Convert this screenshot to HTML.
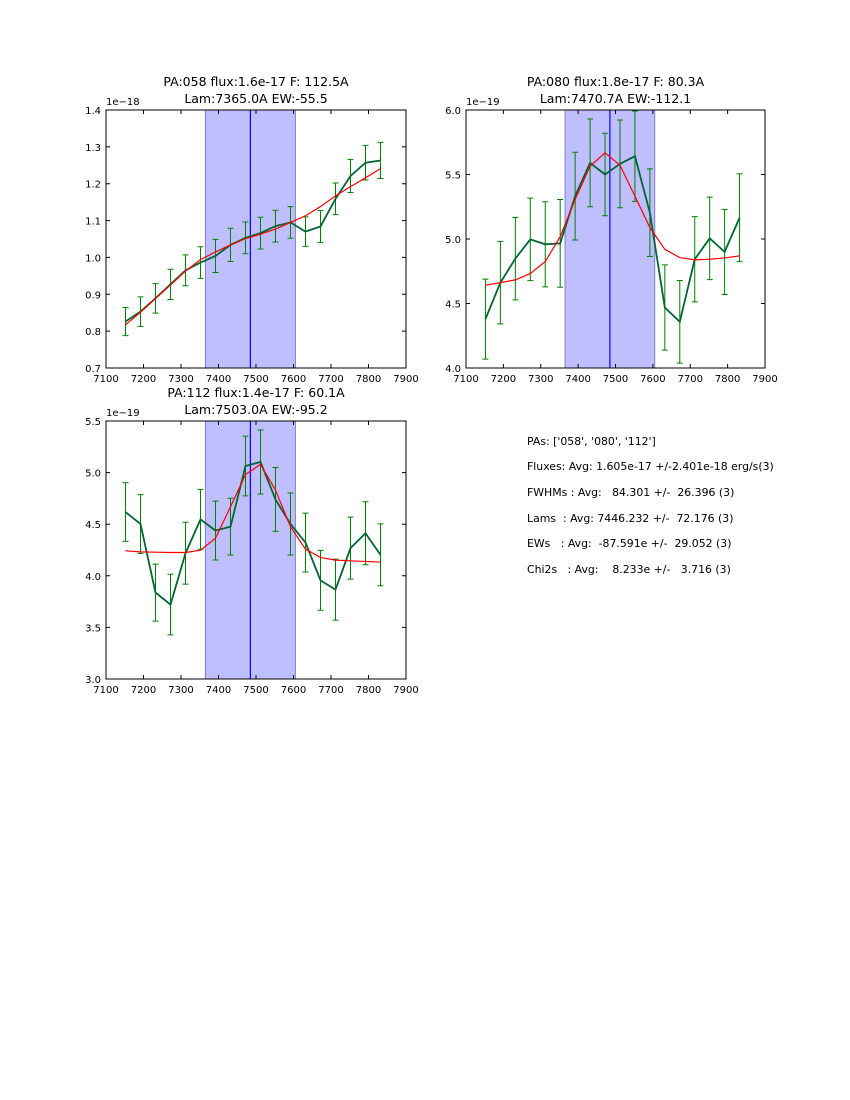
<!DOCTYPE html>
<html><head><meta charset="utf-8"><style>
body{margin:0;background:#fff;}
svg{display:block;font-family:"DejaVu Sans","Liberation Sans",sans-serif;}
#stats text{white-space:pre;}
</style></head><body>
<svg id="fig" width="850" height="1100" xmlns="http://www.w3.org/2000/svg">
<rect width="850" height="1100" fill="#fff"/>
<g id="stats" font-size="10.9" fill="#000">
<text x="527" y="445">PAs: ['058', '080', '112']</text>
<text x="527" y="470">Fluxes: Avg: 1.605e-17 +/-2.401e-18 erg/s(3)</text>
<text x="527" y="496">FWHMs : Avg:   84.301 +/-  26.396 (3)</text>
<text x="527" y="522">Lams  : Avg: 7446.232 +/-  72.176 (3)</text>
<text x="527" y="547">EWs   : Avg:  -87.591e +/-  29.052 (3)</text>
<text x="527" y="573">Chi2s   : Avg:    8.233e +/-   3.716 (3)</text>
</g>
</svg>
<script>
const lam = [7152,7192,7232,7272,7312,7352,7392,7432,7472,7512,7552,7592,7632,7672,7712,7752,7792,7832];
const p1Obs = [0.826,0.853,0.889,0.927,0.965,0.986,1.004,1.034,1.053,1.066,1.085,1.095,1.070,1.084,1.159,1.221,1.257,1.263];
const p1Err = [0.038,0.040,0.040,0.041,0.042,0.043,0.045,0.045,0.043,0.043,0.043,0.043,0.040,0.043,0.043,0.045,0.047,0.049];
const p1Fit = [0.817,0.851,0.889,0.925,0.963,0.994,1.015,1.034,1.051,1.063,1.077,1.095,1.113,1.138,1.167,1.192,1.216,1.241];
const p2Obs = [4.379,4.662,4.848,4.997,4.959,4.966,5.332,5.590,5.500,5.582,5.642,5.204,4.469,4.358,4.843,5.005,4.900,5.165];
const p2Err = [0.31,0.32,0.32,0.32,0.33,0.34,0.34,0.34,0.32,0.34,0.35,0.34,0.33,0.32,0.33,0.32,0.33,0.34];
const p2Fit = [4.642,4.662,4.683,4.732,4.825,5.018,5.307,5.564,5.668,5.572,5.332,5.088,4.920,4.856,4.838,4.843,4.853,4.869];
const p3Obs = [4.618,4.502,3.837,3.721,4.219,4.547,4.438,4.476,5.064,5.103,4.740,4.502,4.322,3.956,3.866,4.268,4.412,4.203];
const p3Err = [0.285,0.285,0.276,0.294,0.30,0.29,0.285,0.275,0.29,0.31,0.31,0.30,0.285,0.29,0.295,0.30,0.305,0.30];
const p3Fit = [4.242,4.232,4.229,4.226,4.226,4.248,4.364,4.669,4.981,5.080,4.830,4.476,4.258,4.178,4.152,4.145,4.139,4.133];
const xTicks = [7100,7200,7300,7400,7500,7600,7700,7800,7900];
const p1YTicks = [0.7,0.8,0.9,1.0,1.1,1.2,1.3,1.4];
const p2YTicks = [4.0,4.5,5.0,5.5,6.0];
const p3YTicks = [3.0,3.5,4.0,4.5,5.0,5.5];
const bandLo = 7365, bandHi = 7605, lineLam = 7485;

const NS = "http://www.w3.org/2000/svg";
const svg = document.getElementById('fig');
function mk(tag, attrs, parent){const e=document.createElementNS(NS,tag);for(const k in attrs)e.setAttribute(k,attrs[k]);(parent||svg).appendChild(e);return e;}

const panels = [
 {name:'panel-pa058', x0:106,x1:406,y0:110,y1:368, ymin:0.7,ymax:1.4, yt:p1YTicks, dec:1, obs:p1Obs, err:p1Err, fit:p1Fit, exp:'1e\u221218', t1:'PA:058 flux:1.6e-17 F: 112.5A', t2:'Lam:7365.0A EW:-55.5'},
 {name:'panel-pa080', x0:466,x1:765,y0:110,y1:368, ymin:4.0,ymax:6.0, yt:p2YTicks, dec:1, obs:p2Obs, err:p2Err, fit:p2Fit, exp:'1e\u221219', t1:'PA:080 flux:1.8e-17 F: 80.3A', t2:'Lam:7470.7A EW:-112.1'},
 {name:'panel-pa112', x0:106,x1:406,y0:421,y1:679, ymin:3.0,ymax:5.5, yt:p3YTicks, dec:1, obs:p3Obs, err:p3Err, fit:p3Fit, exp:'1e\u221219', t1:'PA:112 flux:1.4e-17 F: 60.1A', t2:'Lam:7503.0A EW:-95.2'}
];

panels.forEach(p=>{
  const g = mk('g',{});
  
  
  const X = v => p.x0 + (v-7100)/(800)*(p.x1-p.x0);
  const Y = v => p.y1 - (v-p.ymin)/(p.ymax-p.ymin)*(p.y1-p.y0);
  const band = mk('rect',{x:X(bandLo),y:p.y0,width:X(bandHi)-X(bandLo),height:p.y1-p.y0,fill:'#bfbfff',stroke:'#7f7fbf','stroke-width':1},g);
  
  
  const vl = mk('line',{x1:X(lineLam),x2:X(lineLam),y1:p.y0,y2:p.y1,stroke:'#0000ff','stroke-width':1.2},g);
  
  
  lam.forEach((l,i)=>{
    const x=X(l), ya=Y(p.obs[i]+p.err[i]), yb=Y(p.obs[i]-p.err[i]);
    const eb = mk('path',{d:`M${x},${ya}V${yb}M${x-3},${ya}H${x+3}M${x-3},${yb}H${x+3}`,stroke:'#008000','stroke-width':1,fill:'none'},g);
    
    
  });
  const obsLine = mk('polyline',{points:lam.map((l,i)=>X(l)+','+Y(p.obs[i])).join(' '),fill:'none',stroke:'#006633','stroke-width':1.8},g);
  
  
  const fitLine = mk('polyline',{points:lam.map((l,i)=>X(l)+','+Y(p.fit[i])).join(' '),fill:'none',stroke:'#ff0000','stroke-width':1.2},g);
  
  
  const fr = mk('rect',{x:p.x0,y:p.y0,width:p.x1-p.x0,height:p.y1-p.y0,fill:'none',stroke:'#000','stroke-width':1},g);
  
  
  xTicks.forEach(t=>{
    const x=X(t);
    mk('path',{d:`M${x},${p.y1}v-4M${x},${p.y0}v4`,stroke:'#000','stroke-width':1},g);
    const tx = mk('text',{x:x,y:p.y1+14,'font-size':10,'text-anchor':'middle',fill:'#000'},g);
    tx.textContent=t;
    
    
  });
  p.yt.forEach(t=>{
    const y=Y(t);
    mk('path',{d:`M${p.x0},${y}h4M${p.x1},${y}h-4`,stroke:'#000','stroke-width':1},g);
    const ty = mk('text',{x:p.x0-5,y:y+4,'font-size':10,'text-anchor':'end',fill:'#000'},g);
    ty.textContent=t.toFixed(p.dec);
    
    
  });
  const ex = mk('text',{x:p.x0,y:p.y0-5,'font-size':10,fill:'#000'},g);
  ex.textContent=p.exp;
  
  
  const cx=(p.x0+p.x1)/2;
  const t1 = mk('text',{x:cx,y:p.y0-24,'font-size':12.5,'text-anchor':'middle',fill:'#000'},g);
  t1.textContent=p.t1;
  
  
  const t2 = mk('text',{x:cx,y:p.y0-7,'font-size':12.5,'text-anchor':'middle',fill:'#000'},g);
  t2.textContent=p.t2;
  
  
});
</script>
</body></html>
